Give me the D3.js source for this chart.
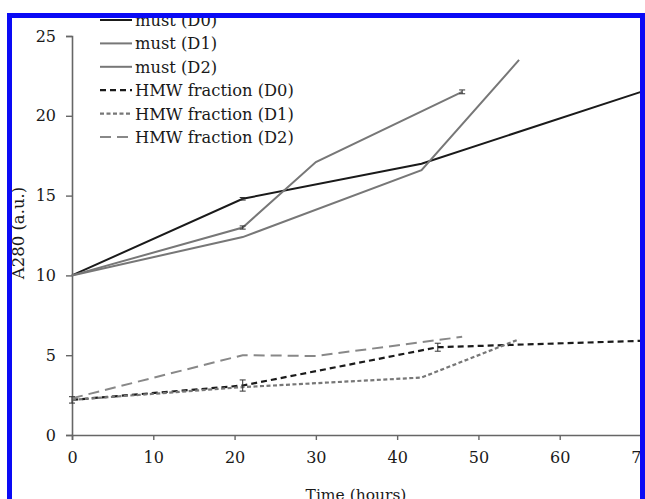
<!DOCTYPE html>
<html>
<head>
<meta charset="utf-8">
<script src="https://cdn.jsdelivr.net/npm/d3@7"></script>
<style>
  html, body { margin: 0; padding: 0; background: #fff; }
  svg { display: block; }
  text { font-family: "DejaVu Serif", "Liberation Serif", serif; fill: #1a1a1a; }
</style>
</head>
<body>
<svg id="chart" width="645" height="499"></svg>
<script>
// hours
const mustD0 = [[0, 10], [21, 14.8], [43, 17], [70, 21.5]];
const mustD1 = [[0, 10], [21, 12.4], [43, 16.6], [55, 23.5]];
const mustD2 = [[0, 10], [21, 13], [30, 17.1], [48, 21.5]];
const hmwD0 = [[0, 2.2], [21, 3.1], [45, 5.5], [70, 5.9]];
const hmwD1 = [[0, 2.2], [21, 3.0], [43, 3.6], [55, 6.0]];
const hmwD2 = [[0, 2.3], [21, 5.0], [30, 4.95], [48, 6.15]];

// error bars: [x, y, +/-]
const errD0 = [[0, 2.2, 0.2], [21, 3.1, 0.35], [45, 5.5, 0.25]];
const errMust = [[48, 21.5, 0.12], [21, 14.8, 0.08], [21, 13, 0.1]];

const xTicks = [0, 10, 20, 30, 40, 50, 60, 70];
const yTicks = [0, 5, 10, 15, 20, 25];

const series = [
  { name: 'must (D0)', data: mustD0, color: '#1a1a1a', dash: null, w: 2 },
  { name: 'must (D1)', data: mustD1, color: '#777', dash: null, w: 2 },
  { name: 'must (D2)', data: mustD2, color: '#777', dash: null, w: 2 },
  { name: 'HMW fraction (D0)', data: hmwD0, color: '#1a1a1a', dash: '6,4', w: 2.2 },
  { name: 'HMW fraction (D1)', data: hmwD1, color: '#777', dash: '4,2.5', w: 2.2 },
  { name: 'HMW fraction (D2)', data: hmwD2, color: '#888', dash: '11,6', w: 2 },
];

const svg = d3.select('#chart');
const x = d3.scaleLinear().domain([0, 70]).range([72, 641]);
const y = d3.scaleLinear().domain([0, 25]).range([435, 36]);

// axes
const axColor = '#666';
const xAxis = svg.append('g').attr('transform', 'translate(0,435)')
  .call(d3.axisBottom(x).tickValues(xTicks).tickSize(5).tickPadding(12));
const yAxis = svg.append('g').attr('transform', 'translate(72,0)')
  .call(d3.axisLeft(y).tickValues(yTicks).tickSize(6).tickPadding(10));
[xAxis, yAxis].forEach(g => {
  g.select('.domain').attr('stroke', axColor).attr('stroke-width', 1.6);
  g.selectAll('.tick line').attr('stroke', axColor).attr('stroke-width', 1.4);
  g.selectAll('.tick text').attr('font-family', '"DejaVu Serif", serif')
    .attr('font-size', 16).attr('fill', '#222');
});

// lines
const line = d3.line().x(d => x(d[0])).y(d => y(d[1]));
svg.append('g').selectAll('path').data(series).enter().append('path')
  .attr('d', d => line(d.data))
  .attr('fill', 'none')
  .attr('stroke', d => d.color)
  .attr('stroke-width', d => d.w)
  .attr('stroke-dasharray', d => d.dash);

// error bars
const errs = errD0.concat(errMust);
const eg = svg.append('g').attr('stroke', '#333').attr('stroke-width', 1);
errs.forEach(([xv, yv, e]) => {
  const cx = x(xv);
  eg.append('line').attr('x1', cx).attr('x2', cx).attr('y1', y(yv - e)).attr('y2', y(yv + e));
  eg.append('line').attr('x1', cx - 3).attr('x2', cx + 3).attr('y1', y(yv - e)).attr('y2', y(yv - e));
  eg.append('line').attr('x1', cx - 3).attr('x2', cx + 3).attr('y1', y(yv + e)).attr('y2', y(yv + e));
});

// legend
const lg = svg.append('g');
series.forEach((s, i) => {
  const ly = 20 + i * 23.4;
  lg.append('line').attr('x1', 100).attr('x2', 132).attr('y1', ly).attr('y2', ly)
    .attr('stroke', s.color).attr('stroke-width', s.w).attr('stroke-dasharray', s.dash);
  lg.append('text').attr('x', 135).attr('y', ly + 6).attr('font-size', 16.3).text(s.name);
});

// axis titles
svg.append('text').attr('x', 356).attr('y', 500).attr('text-anchor', 'middle')
  .attr('font-size', 15.5).text('Time (hours)');
svg.append('text').attr('transform', 'translate(24,233) rotate(-90)')
  .attr('text-anchor', 'middle').attr('font-size', 16.5).text('A280 (a.u.)');

// blue frame
svg.append('rect').attr('x', 9.5).attr('y', 15.5).attr('width', 633).attr('height', 600)
  .attr('fill', 'none').attr('stroke', '#0a0af5').attr('stroke-width', 5);
</script>
</body>
</html>
